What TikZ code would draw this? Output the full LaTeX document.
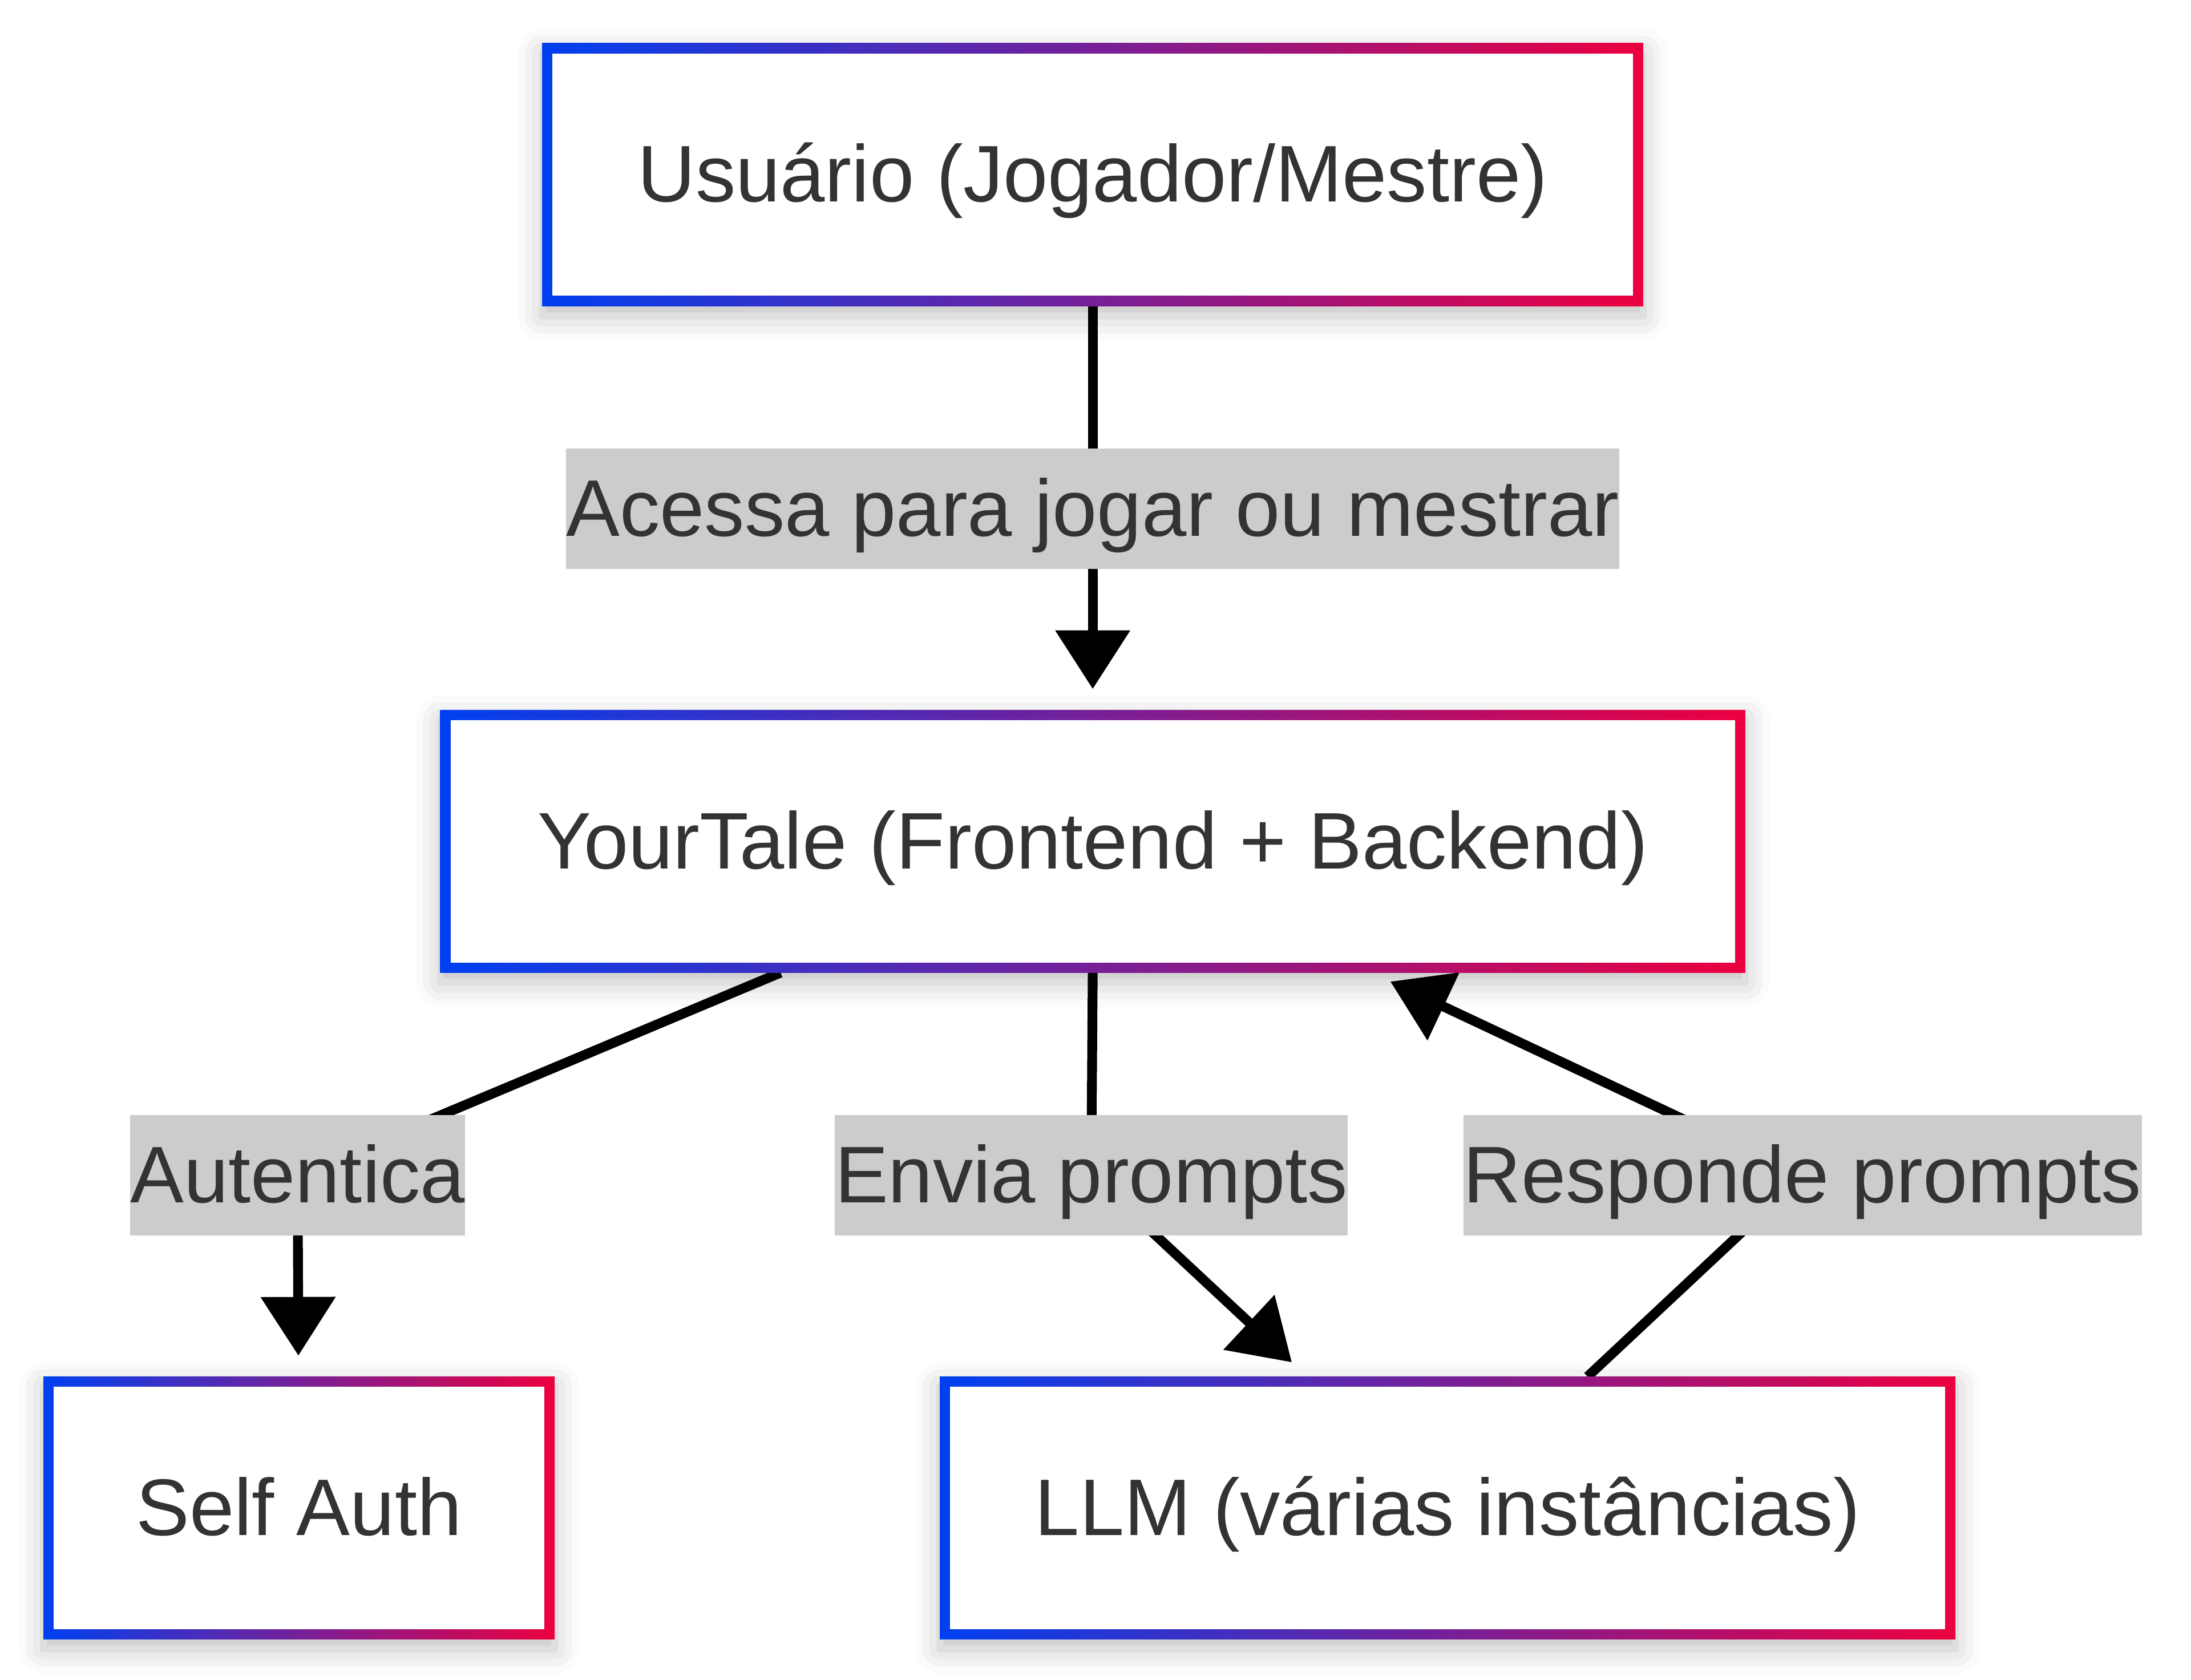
\documentclass[tikz,border=0pt]{standalone}
\usepackage{fontspec}
\setmainfont{Liberation Sans}
\usetikzlibrary{arrows.meta,backgrounds,shadows.blur}
\definecolor{edgeblue}{RGB}{0,64,240}
\definecolor{edgered}{RGB}{236,0,64}
\definecolor{labelgray}{RGB}{204,204,204}
\definecolor{inkgray}{RGB}{51,51,51}

\begin{document}
\begin{tikzpicture}[x=0.02cm, y=-0.02cm,
    box/.style={rectangle, outer sep=0pt, left color=edgeblue, right color=edgered,
      minimum height=3.76cm, text=inkgray, font=\fontsize{32.7}{39}\selectfont,
      text height=1.25cm, text depth=0.47cm,
      blur shadow={shadow xshift=0pt, shadow yshift=-0.14cm, shadow opacity=25, shadow blur radius=0.35cm},
      path picture={\fill[white] ([shift={(0.146cm,-0.146cm)}]path picture bounding box.north west)
        rectangle ([shift={(-0.146cm,0.146cm)}]path picture bounding box.south east);}},
    tag/.style={fill=labelgray, text=inkgray, inner xsep=0pt, inner ysep=0pt,
      text height=1.25cm, text depth=0.47cm, font=\fontsize{32.7}{39}\selectfont},
    flow/.style={line width=0.14cm, line join=round, -{Triangle[length=0.84cm,width=1.04cm]}, shorten >=0.3cm}]
    % whole sheet
    \useasboundingbox (0,0) rectangle (1568,1202);
    % the four boxes
    \node[box, minimum width=15.76cm] (user) at (782,125) {Usuário (Jogador/Mestre)};
    \node[box, minimum width=18.68cm] (app) at (782,602) {YourTale (Frontend + Backend)};
    \node[box, minimum width=7.32cm] (auth) at (214,1079) {Self Auth};
    \node[box, minimum width=14.54cm] (llm) at (1036,1079) {LLM (várias instâncias)};
    % labels on the connectors
    \node[tag] (acessa) at (782,364) {Acessa para jogar ou mestrar};
    \node[tag] (autentica) at (213,841) {Autentica};
    \node[tag] (envia) at (781,841) {Envia prompts};
    \node[tag] (responde) at (1290,841) {Responde prompts};
    % connectors, kept behind the labels
    \begin{pgfonlayer}{background}
        \draw[flow] (user) -- (app);
        \draw[flow] (app) -- (autentica.center) -- (auth);
        \draw[flow] (app.south) -- (envia.center) -- (llm);
        \draw[flow] (llm) -- (responde.center) -- (app);
    \end{pgfonlayer}
\end{tikzpicture}
\end{document}
